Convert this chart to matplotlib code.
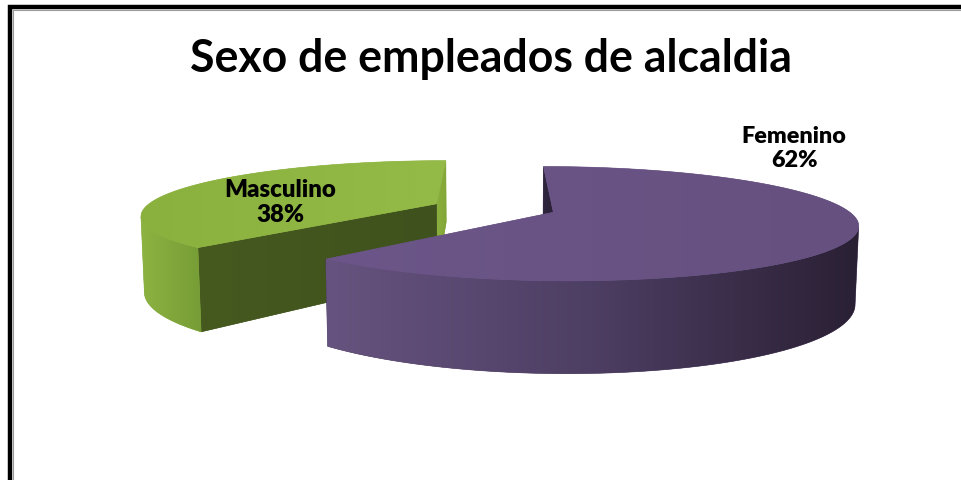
import numpy as np
import matplotlib
matplotlib.use("Agg")
import matplotlib.pyplot as plt
from matplotlib.patches import Polygon
from matplotlib.colors import to_rgb

# ---- data -------------------------------------------------------------
title = "Sexo de empleados de alcaldia"
categories = ["Femenino", "Masculino"]
percentages = [62, 38]

# ---- per-slice colours ------------------------------------------------
top_colors = [["#6C5689", "#65507F"], ["#8AB13E", "#94BA48"]]
wall_colors = [["#66537F", "#4D3E63", "#2A2034"], ["#8DB342", "#769C36"]]
# radial faces: the one at the clockwise end and the one at the start
cut_lo_colors = [["#30263F", "#2B2236"], ["#8AAF3D", "#82A739"]]
cut_hi_colors = [["#30263F", "#2B2236"], ["#46591F", "#3F521D"]]

# ---- figure -----------------------------------------------------------
W, H = 961, 481
fig = plt.figure(figsize=(W / 100, H / 100), dpi=100)
ax = fig.add_axes([0, 0, 1, 1])
ax.set_xlim(0, W)
ax.set_ylim(H, 0)
ax.axis("off")
renderer = fig.canvas.get_renderer()

# ---- simple perspective camera for the 3-D pie -----------------------
phi = np.radians(10.5)
dist = 5.0
focal = 1460.0
sx0, sy0 = 494.0, 209.0
thickness = 0.26
explode = 0.215

cam = np.array([0.0, dist * np.sin(phi), -dist * np.cos(phi)])
fwd = np.array([0.0, -np.sin(phi), np.cos(phi)])
upv = np.array([0.0, np.cos(phi), np.sin(phi)])
rgt = np.array([1.0, 0.0, 0.0])


def project(pts):
    v = np.atleast_2d(pts) - cam
    xc, yc, zc = v @ rgt, v @ upv, v @ fwd
    return np.column_stack([sx0 + focal * xc / zc, sy0 - focal * yc / zc]), zc


def rim(center, ang, y):
    return np.column_stack([center[0] + np.cos(ang),
                            np.full_like(ang, y),
                            center[2] + np.sin(ang)])


def gradient_fill(xy, stops, z):
    """Fill a screen polygon with a left-to-right colour gradient."""
    xmin, ymin = xy.min(0)
    xmax, ymax = xy.max(0)
    base = np.mean([to_rgb(c) for c in stops], axis=0)
    ax.add_patch(Polygon(xy, closed=True, facecolor=base, edgecolor=base,
                         lw=0.4, zorder=z))
    clip = Polygon(xy, closed=True, facecolor="none", edgecolor="none",
                   transform=ax.transData)
    cols = np.array([to_rgb(c) for c in stops])
    s = np.linspace(0, 1, 256)
    pos = np.linspace(0, 1, len(cols))
    row = np.column_stack([np.interp(s, pos, cols[:, k]) for k in range(3)])
    img = np.repeat(row[None, :, :], 2, axis=0)
    im = ax.imshow(img, extent=(xmin, xmax, ymax, ymin), aspect="auto",
                   interpolation="bilinear", zorder=z + 0.01)
    im.set_clip_path(clip)


# slices start at 12 o'clock and run clockwise
fracs = np.array(percentages, dtype=float) / sum(percentages)
bounds = np.radians(90.0 - 360.0 * np.concatenate([[0], np.cumsum(fracs)]))

slices = []
for i in range(len(categories)):
    hi, lo = bounds[i], bounds[i + 1]
    mid = 0.5 * (hi + lo)
    center = np.array([explode * np.cos(mid), 0.0, explode * np.sin(mid)])
    slices.append((i, lo, hi, center))

# draw farther slices first
slices.sort(key=lambda s: -project(s[3])[1][0])

zbase = 2
for i, lo, hi, center in slices:
    faces = []
    ang = np.linspace(lo, hi, 400)
    apex_top = center.copy()
    apex_bot = center + np.array([0, -thickness, 0])

    # outer wall: keep only the part facing the camera
    n = np.column_stack([np.cos(ang), np.zeros_like(ang), np.sin(ang)])
    vis = np.einsum("ij,ij->i", n, cam - rim(center, ang, 0.0)) > 0
    if vis.any():
        a = ang[vis]
        top, zt = project(rim(center, a, 0.0))
        bot, _ = project(rim(center, a, -thickness))
        faces.append((zt.mean(), np.vstack([top, bot[::-1]]), wall_colors[i]))

    # radial cut faces
    for a_edge, nrm_ang, cols in ((lo, lo - np.pi / 2, cut_lo_colors[i]),
                                  (hi, hi + np.pi / 2, cut_hi_colors[i])):
        nrm = np.array([np.cos(nrm_ang), 0, np.sin(nrm_ang)])
        if nrm @ (cam - apex_top) <= 0:
            continue
        r_top = rim(center, np.array([a_edge]), 0.0)[0]
        r_bot = rim(center, np.array([a_edge]), -thickness)[0]
        xy, zc = project(np.vstack([apex_top, r_top, r_bot, apex_bot]))
        faces.append((zc.mean(), xy, cols))

    faces.sort(key=lambda f: -f[0])
    for _, xy, cols in faces:
        gradient_fill(xy, cols, zbase)
        zbase += 1

    # top face
    top, _ = project(np.vstack([apex_top, rim(center, ang, 0.0)]))
    gradient_fill(top, top_colors[i], zbase)
    zbase += 1

# ---- texts ------------------------------------------------------------
def fitted_text(x, y, s, width_px, **kw):
    t = ax.text(x, y, s, fontsize=20, **kw)
    bb = t.get_window_extent(renderer)
    t.set_fontsize(20 * width_px / bb.width)
    return t

fitted_text(490.5, 72, title, 603, family="Lato", weight="bold",
            ha="center", va="baseline", zorder=30)

label_pos = {"Femenino": (794, 167, 105), "Masculino": (280, 222, 112)}
for name, pct in zip(categories, percentages):
    x, y, w = label_pos[name]
    fitted_text(x, y, f"{name}\n{pct}%", w, family="Lato", weight="heavy",
                ha="center", va="baseline", multialignment="center",
                linespacing=1.18, zorder=30)

# ---- chart frame -------------------------------------------------------
ax.plot([9.5, 9.5, W + 5], [H + 5, 7.5, 7.5], color="black", lw=3.2,
        solid_joinstyle="miter", zorder=40)
ax.plot([12.5, 12.5, W + 5], [H + 5, 10.5, 10.5], color="#9a9a9a", lw=0.8,
        zorder=39)

fig.savefig("out.png", dpi=100)
